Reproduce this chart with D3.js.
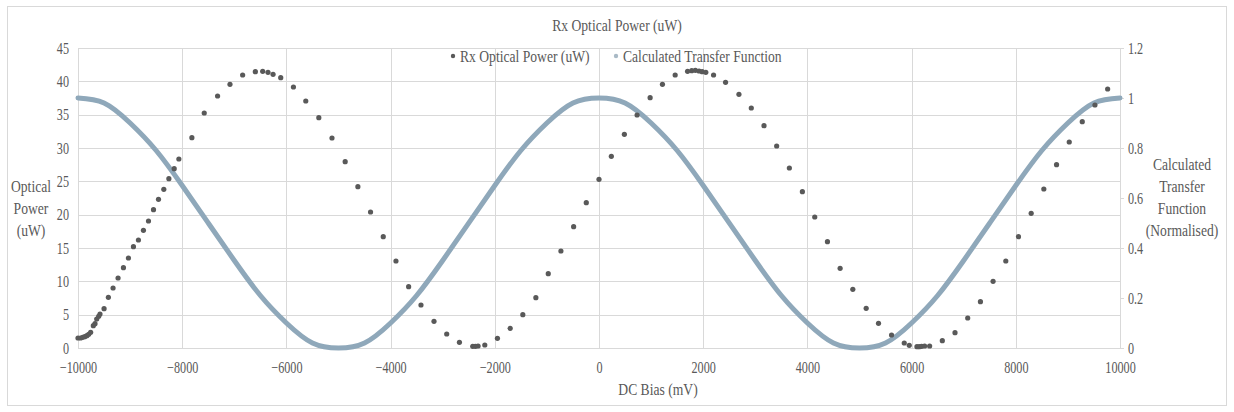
<!DOCTYPE html>
<html>
<head>
<meta charset="utf-8">
<script src="https://cdn.jsdelivr.net/npm/d3@7"></script>
<style>
  html, body { margin: 0; padding: 0; background: #fff; }
  svg { display: block; }
  svg text { font-family: "Liberation Serif", "Times New Roman", "DejaVu Serif", serif; fill: #595959; }
</style>
</head>
<body>
<svg id="chart" width="1234" height="412"></svg>
<script>
// ---- data ----
const chartTitle = "Rx Optical Power (uW)";
const seriesNames = ["Rx Optical Power (uW)", "Calculated Transfer Function"];
const xTicks = [-10000, -8000, -6000, -4000, -2000, 0, 2000, 4000, 6000, 8000, 10000];
const yLeftTicks = [0, 5, 10, 15, 20, 25, 30, 35, 40, 45];
const yRightTicks = [0, 0.2, 0.4, 0.6, 0.8, 1, 1.2];
const xTitle = "DC Bias (mV)";
const yLeftTitle = ["Optical", "Power", "(uW)"];
const yRightTitle = ["Calculated", "Transfer", "Function", "(Normalised)"];

// Rx optical power measurements (DC bias mV, power uW)
const rxBias = [-10000, -9950, -9910, -9870, -9830, -9795, -9757, -9706, -9674, -9641, -9603, -9578,
  -9500, -9417, -9327, -9231, -9128, -9032, -8936, -8840, -8744, -8647, -8551, -8455, -8353, -8256,
  -8154, -8064, -7814, -7577, -7321, -7083, -6840, -6596, -6455, -6353, -6256, -6109, -5865, -5628,
  -5378, -5125, -4872, -4628, -4385, -4141, -3897, -3654, -3417, -3167, -2923, -2679, -2423, -2372,
  -2321, -2192, -1949, -1705, -1462, -1212, -974, -731, -487, -244, 0, 237, 487, 731, 981, 1218,
  1462, 1700, 1780, 1850, 1920, 1980, 2050, 2199, 2429, 2686, 2923, 3167, 3410, 3654, 3904, 4141,
  4385, 4628, 4872, 5128, 5365, 5615, 5859, 5955, 6103, 6147, 6192, 6250, 6346, 6590, 6833, 7077,
  7321, 7564, 7808, 8051, 8295, 8538, 8782, 9026, 9276, 9519, 9763];
const rxPower = [1.5, 1.5, 1.6, 1.7, 1.85, 2.05, 2.35, 3.35, 3.65, 4.35, 4.75, 5.1,
  5.9, 7.6, 9.0, 10.5, 12.05, 13.5, 15.2, 16.2, 17.65, 19.05, 20.75, 22.3, 23.8, 25.4,
  26.9, 28.35, 31.55, 35.25, 37.8, 39.55, 40.95, 41.45, 41.5, 41.35, 41.05, 40.55, 39.15, 37.05,
  34.55, 31.5, 27.95, 24.2, 20.4, 16.7, 13.05, 9.2, 6.45, 4.0, 2.1, 0.85, 0.25, 0.25,
  0.3, 0.45, 1.45, 2.95, 5.0, 7.55, 11.15, 14.55, 18.2, 21.8, 25.3, 28.75, 32.05, 34.95, 37.55, 39.55,
  40.95, 41.5, 41.6, 41.65, 41.55, 41.45, 41.35, 40.95, 39.85, 38.05, 36.0, 33.35, 30.3, 27.0, 23.45, 19.65,
  15.95, 11.95, 8.8, 5.95, 3.7, 1.95, 0.75, 0.4, 0.2, 0.2, 0.25, 0.3, 0.3, 1.1, 2.3, 4.5,
  6.95, 10.0, 13.05, 16.7, 20.2, 23.85, 27.5, 30.9, 33.95, 36.45, 38.85];

// Calculated transfer function (normalised), read every 500 mV
const tfBias = [-10000, -9500, -9000, -8500, -8000, -7500, -7000, -6500, -6000, -5500, -5000,
  -4500, -4000, -3500, -3000, -2500, -2000, -1500, -1000, -500, 0,
  500, 1000, 1500, 2000, 2500, 3000, 3500, 4000, 4500, 5000,
  5500, 6000, 6500, 7000, 7500, 8000, 8500, 9000, 9500, 10000];
const tfValue = [1.00, 0.98, 0.90, 0.79, 0.65, 0.50, 0.35, 0.21, 0.10, 0.02, 0.00,
  0.02, 0.10, 0.21, 0.35, 0.50, 0.65, 0.79, 0.90, 0.98, 1.00,
  0.98, 0.90, 0.79, 0.65, 0.50, 0.35, 0.21, 0.10, 0.02, 0.00,
  0.02, 0.10, 0.21, 0.35, 0.50, 0.65, 0.79, 0.90, 0.98, 1.00];

// ---- layout ----
const plot = { left: 78, right: 1120, top: 48, bottom: 348 };
const gridColor = "#d9d9d9";
const textColor = "#595959";
const dotColor = "#595959";
const lineColor = "#8fa8ba";
const FONT = '"Liberation Serif", "Times New Roman", "DejaVu Serif", serif';
const SQ = 0.85; // horizontal condensing of the serif face
const SQ_TICK = 0.76;

const svg = d3.select("#chart");

function condense(sel, f) {
  sel.each(function () {
    const l = this.getComputedTextLength();
    this.setAttribute("textLength", l * (f || SQ));
    this.setAttribute("lengthAdjust", "spacingAndGlyphs");
  });
  return sel;
}
function styleText(sel, size) {
  return sel.attr("font-family", null).style("font-family", FONT)
    .style("font-size", size + "px").attr("fill", textColor);
}

const x = d3.scaleLinear().domain([-10000, 10000]).range([plot.left, plot.right]);
const yL = d3.scaleLinear().domain([0, 45]).range([plot.bottom, plot.top]);
const yR = d3.scaleLinear().domain([0, 1.2]).range([plot.bottom, plot.top]);

// chart border
svg.append("rect").attr("x", 7.5).attr("y", 6.5).attr("width", 1219).attr("height", 399)
  .attr("fill", "#fff").attr("stroke", gridColor).attr("stroke-width", 1);

// gridlines
svg.append("g").selectAll("line").data(yLeftTicks).join("line")
  .attr("x1", plot.left).attr("x2", plot.right)
  .attr("y1", d => Math.round(yL(d)) + 0.5).attr("y2", d => Math.round(yL(d)) + 0.5)
  .attr("stroke", gridColor).attr("stroke-width", 1);
svg.append("g").selectAll("line").data(xTicks).join("line")
  .attr("x1", d => Math.round(x(d)) + 0.5).attr("x2", d => Math.round(x(d)) + 0.5)
  .attr("y1", plot.top).attr("y2", plot.bottom)
  .attr("stroke", gridColor).attr("stroke-width", 1);

// bottom axis (labels only)
const xAxis = d3.axisBottom(x).tickValues(xTicks).tickSize(0).tickPadding(14).tickFormat(d3.format("d"));
const gx = svg.append("g").attr("transform", `translate(0,${plot.bottom})`).call(xAxis);
gx.attr("font-family", null);
gx.select(".domain").attr("stroke", gridColor);
condense(styleText(gx.selectAll("text"), 16), SQ_TICK);

// left axis
const yAxisL = d3.axisLeft(yL).tickValues(yLeftTicks).tickSize(0).tickPadding(9);
const gyl = svg.append("g").attr("transform", `translate(${plot.left},0)`).call(yAxisL);
gyl.attr("font-family", null);
gyl.select(".domain").remove();
condense(styleText(gyl.selectAll("text"), 16), SQ_TICK);

// right axis
const yAxisR = d3.axisRight(yR).tickValues(yRightTicks).tickSize(4).tickPadding(4)
  .tickFormat(d => String(d));
const gyr = svg.append("g").attr("transform", `translate(${plot.right},0)`).call(yAxisR);
gyr.attr("font-family", null);
gyr.select(".domain").attr("stroke", gridColor);
gyr.selectAll(".tick line").attr("stroke", gridColor);
condense(styleText(gyr.selectAll("text"), 16), SQ_TICK);

// transfer function line
const tfData = tfBias.map((b, i) => [b, tfValue[i]]);
svg.append("path").datum(tfData)
  .attr("fill", "none").attr("stroke", lineColor).attr("stroke-width", 5)
  .attr("stroke-linecap", "round")
  .attr("d", d3.line().x(d => x(d[0])).y(d => yR(d[1])).curve(d3.curveNatural));

// Rx optical power points
const rxData = rxBias.map((b, i) => [b, rxPower[i]]);
svg.append("g").selectAll("circle").data(rxData).join("circle")
  .attr("cx", d => x(d[0])).attr("cy", d => yL(d[1])).attr("r", 2.6)
  .attr("fill", dotColor);

// title
condense(styleText(svg.append("text").attr("x", 617).attr("y", 31).attr("text-anchor", "middle")
  .text(chartTitle), 16));

// legend
const legend = svg.append("g");
legend.append("circle").attr("cx", 453).attr("cy", 56).attr("r", 2.2).attr("fill", dotColor);
condense(styleText(legend.append("text").attr("x", 460).attr("y", 61.5).text(seriesNames[0]), 16));
legend.append("circle").attr("cx", 616).attr("cy", 56).attr("r", 2.2).attr("fill", "#a9bac6");
condense(styleText(legend.append("text").attr("x", 623).attr("y", 61.5).text(seriesNames[1]), 16));

// x axis title
condense(styleText(svg.append("text").attr("x", 658).attr("y", 395).attr("text-anchor", "middle")
  .text(xTitle), 16));

// left axis title
yLeftTitle.forEach((t, i) => {
  condense(styleText(svg.append("text").attr("x", 31).attr("y", 192 + i * 22).attr("text-anchor", "middle")
    .text(t), 16));
});

// right axis title
yRightTitle.forEach((t, i) => {
  condense(styleText(svg.append("text").attr("x", 1182).attr("y", 170 + i * 22).attr("text-anchor", "middle")
    .text(t), 16));
});
</script>
</body>
</html>
